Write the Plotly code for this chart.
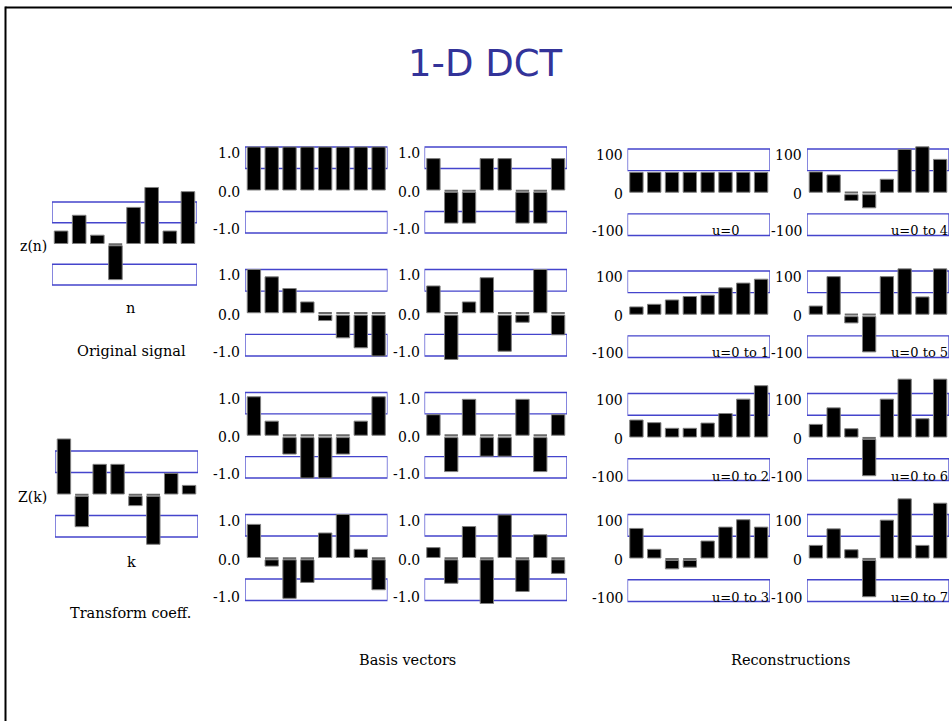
import plotly.graph_objects as go

W, H = 952, 721

# sample index shared by every panel
n_idx = list(range(8))

# original signal z(n) and its DCT coefficients Z(k)
signal_z = [30, 68, 20, -87, 87, 135, 30, 125]
coeffs_Z = [128, -76, 69, 69, -27, -117, 48, 20]

# DCT basis vectors k = 0..7
basis_0 = [1.0, 1.0, 1.0, 1.0, 1.0, 1.0, 1.0, 1.0]
basis_1 = [1.0, 0.83, 0.56, 0.25, -0.18, -0.58, -0.81, -1.0]
basis_2 = [0.9, 0.33, -0.44, -1.0, -1.0, -0.44, 0.33, 0.9]
basis_3 = [0.77, -0.2, -0.95, -0.58, 0.57, 1.0, 0.19, -0.75]
basis_4 = [0.73, -0.77, -0.77, 0.73, 0.73, -0.77, -0.77, 0.73]
basis_5 = [0.62, -1.08, 0.25, 0.81, -0.89, -0.22, 1.0, -0.51]
basis_6 = [0.48, -0.85, 0.84, -0.49, -0.49, 0.84, -0.85, 0.48]
basis_7 = [0.23, -0.6, 0.72, -1.07, 0.99, -0.79, 0.53, -0.37]

# partial reconstructions using coefficients u = 0..m
recon_0 = [46, 46, 46, 46, 46, 46, 46, 46]
recon_1 = [17, 23, 33, 41, 44, 61, 72, 81]
recon_2 = [39, 33, 20, 20, 32, 54, 87, 118]
recon_3 = [68, 20, -25, -21, 39, 71, 88, 71]
recon_4 = [47, 40, -19, -36, 30, 99, 105, 76]
recon_5 = [19, 87, -20, -87, 87, 105, 40, 105]
recon_6 = [29, 67, 19, -89, 87, 133, 42, 133]
recon_7 = [29, 67, 19, -89, 87, 136, 29, 126]
recon_labels = ["u=0", "u=0 to 1", "u=0 to 2", "u=0 to 3",
                "u=0 to 4", "u=0 to 5", "u=0 to 6", "u=0 to 7"]

basis_ticks = ["1.0", "0.0", "-1.0"]
recon_ticks = ["100", "0", "-100"]

BLUE = "#4444cc"
SERIF = "DejaVu Serif"

fig = go.Figure()
layout_axes = {}
shapes = []
annotations = []


def add_panel(idx, vals, scale, box, ticks=None, label=None):
    left, right, top, bottom = box
    zero = (top + bottom) / 2
    unit = (bottom - top) / 2
    lim = 1.45
    d_top = zero - lim * unit
    d_bot = zero + lim * unit
    xa = "xaxis" if idx == 1 else f"xaxis{idx}"
    ya = "yaxis" if idx == 1 else f"yaxis{idx}"
    xr = "x" if idx == 1 else f"x{idx}"
    yr = "y" if idx == 1 else f"y{idx}"
    layout_axes[xa] = dict(domain=[left / W, right / W], range=[-0.5, 7.5],
                           visible=False, anchor=yr, fixedrange=True)
    layout_axes[ya] = dict(domain=[1 - d_bot / H, 1 - d_top / H],
                           range=[-lim * scale, lim * scale],
                           visible=False, anchor=xr, fixedrange=True)

    # negative bars hang slightly below a thin zero tick
    gap = 0.055 * scale
    tick = 0.03 * scale
    base = [0 if v >= 0 else -gap for v in vals]
    ys = [v if v >= 0 else v + gap for v in vals]
    fig.add_trace(go.Bar(
        x=n_idx, y=ys, base=base, width=0.75, xaxis=xr, yaxis=yr,
        marker=dict(color="black", line=dict(color="#808080", width=1)),
        hoverinfo="skip", showlegend=False))
    fig.add_trace(go.Bar(
        x=n_idx, y=[-tick if v < 0 else None for v in vals],
        base=[0] * len(vals), width=0.75, xaxis=xr, yaxis=yr,
        marker=dict(color="#6a6a6a", line=dict(width=0)),
        hoverinfo="skip", showlegend=False))

    for y0, y1 in ((0.5 * scale, scale), (-scale, -0.5 * scale)):
        shapes.append(dict(type="rect", xref=xr, yref=yr, x0=-0.5, x1=7.5,
                           y0=y0, y1=y1, line=dict(color=BLUE, width=1.3),
                           fillcolor="rgba(0,0,0,0)", layer="below"))

    if ticks:
        for txt, val, anc, sh in zip(ticks, (scale, 0, -scale),
                                     ("top", "middle", "bottom"), (4, -2, -6)):
            annotations.append(dict(
                text=txt, xref="paper", x=(left - 3) / W, xanchor="right",
                yref=yr, y=val, yanchor=anc, yshift=sh, showarrow=False,
                font=dict(family=SERIF, size=14, color="black")))
    if label:
        annotations.append(dict(
            text=label, xref="paper", x=(left + 82) / W, xanchor="left",
            yref=yr, y=-scale, yanchor="bottom", yshift=-5, showarrow=False,
            font=dict(family=SERIF, size=13, color="black")))


# left column: signal and coefficients
add_panel(1, signal_z, 100, (52, 197, 202, 285))
add_panel(2, coeffs_Z, 100, (55, 198, 451, 537))

basis = [basis_0, basis_1, basis_2, basis_3, basis_4, basis_5, basis_6, basis_7]
recon = [recon_0, recon_1, recon_2, recon_3, recon_4, recon_5, recon_6, recon_7]

basis_cols = [(245, 387.5), (424.5, 567)]
basis_rows = [(147, 233), (269.5, 356), (392.5, 478), (514.5, 600.5)]
recon_cols = [(627.5, 770), (807, 949)]
recon_rows = [(149, 235.5), (271, 357.5), (393.5, 480.5), (514.5, 601.5)]

idx = 3
for k in range(8):
    c, r = divmod(k, 4)
    add_panel(idx, basis[k], 1.0,
              (basis_cols[c][0], basis_cols[c][1], basis_rows[r][0], basis_rows[r][1]),
              ticks=basis_ticks)
    idx += 1
for k in range(8):
    c, r = divmod(k, 4)
    add_panel(idx, recon[k], 100,
              (recon_cols[c][0], recon_cols[c][1], recon_rows[r][0], recon_rows[r][1]),
              ticks=recon_ticks, label=recon_labels[k])
    idx += 1


def paper_text(txt, x, y, size=14.5, family=SERIF, color="black", xanchor="center"):
    annotations.append(dict(text=txt, xref="paper", yref="paper", x=x / W,
                            y=1 - y / H, xanchor=xanchor, yanchor="middle",
                            showarrow=False,
                            font=dict(family=family, size=size, color=color)))


paper_text("1-D DCT", 485, 64, size=37, family="DejaVu Sans", color="#333399")
paper_text("z(n)", 33, 246, size=14)
paper_text("n", 130, 308)
paper_text("Original signal", 131, 351)
paper_text("Z(k)", 32, 497, size=14)
paper_text("k", 131, 562)
paper_text("Transform coeff.", 130, 613)
paper_text("Basis vectors", 407, 660)
paper_text("Reconstructions", 790, 660)

# slide frame along the top and left edges
shapes.append(dict(type="line", xref="paper", yref="paper",
                   x0=5.5 / W, x1=1.0, y0=1 - 7.5 / H, y1=1 - 7.5 / H,
                   line=dict(color="black", width=2)))
shapes.append(dict(type="line", xref="paper", yref="paper",
                   x0=5.5 / W, x1=5.5 / W, y0=0, y1=1 - 6.5 / H,
                   line=dict(color="black", width=2)))

fig.update_layout(
    width=W, height=H, margin=dict(l=0, r=0, t=0, b=0),
    paper_bgcolor="white", plot_bgcolor="rgba(0,0,0,0)",
    barmode="overlay", showlegend=False,
    shapes=shapes, annotations=annotations, **layout_axes)

fig.write_html("out.html", config={"displayModeBar": False})
